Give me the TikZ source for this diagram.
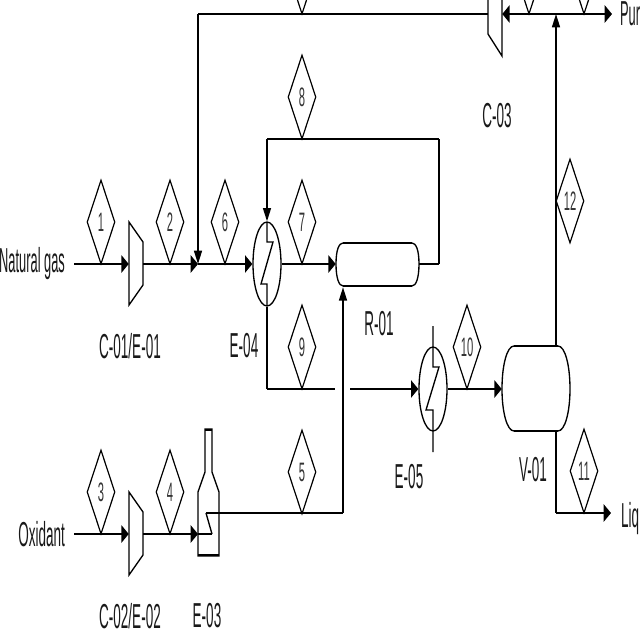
\documentclass[tikz,border=0pt]{standalone}
\usepackage{fontspec}
\setmainfont{Liberation Sans}
\usetikzlibrary{arrows.meta}
\usetikzlibrary{shapes.geometric}

\tikzset{
  pipe/.style={line width=2pt},
  riser/.style={line width=1.1pt},
  flow/.style={-{Triangle[length=5.5pt,width=13pt]}},
  rise/.style={-{Triangle[length=10pt,width=6pt]}},
  vessel/.style={line width=1pt},
  exchanger/.style={ellipse,draw=black,line width=1pt,inner sep=0pt,minimum width=21pt,minimum height=63pt},
  port/.style={inner sep=0pt,minimum size=0pt},
  tag/.style={diamond,draw=black,line width=0.9pt,aspect=0.33,inner sep=0pt,minimum width=21pt,minimum height=63pt,font=\fontsize{20}{20}\selectfont,text=black!80},
  tagtext/.style={font=\fontsize{26}{26}\selectfont,text=black!90,xscale=0.39,transform shape,inner sep=0pt},
}
\newcommand{\digit}[1]{\scalebox{0.42}[1]{#1}}

\begin{document}
\begin{tikzpicture}[x=0.75pt,y=-0.75pt]
  \useasboundingbox (0,0) rectangle (640,640);
  \clip (0,0) rectangle (640,640);
  % stream tags
  \node[tag] (t1) at (101,222) {\digit{1}};
  \node[tag] (t2) at (170,222) {\digit{2}};
  \node[tag] (t6) at (225,222) {\digit{6}};
  \node[tag] (t7) at (302,222) {\digit{7}};
  \node[tag] (t8) at (302,97) {\digit{8}};
  \node[tag] (t9) at (302,347) {\digit{9}};
  \node[tag] (t3) at (101,492) {\digit{3}};
  \node[tag] (t4) at (170,492) {\digit{4}};
  \node[tag] (t5) at (302,472) {\digit{5}};
  \node[tag] (t10) at (467,347) {\digit{10}};
  \node[tag] (t11) at (584,471) {\digit{11}};
  \node[tag] (t12) at (570,201) {\digit{12}};
  \node[tag] (t13) at (302,-28) {};
  \node[tag] (t14) at (529,-28) {};
  \node[tag] (t15) at (584,-28) {};
  % equipment
  \coordinate (in1) at (74,264);
  \coordinate (in2) at (74,534);
  \node[port] (c1in) at (129,264) {};
  \node[port] (c1out) at (143,264) {};
  \node[port] (c2in) at (129,534) {};
  \node[port] (c2out) at (143,534) {};
  \node[port] (c3in) at (488,14) {};
  \node[port] (c3out) at (502,14) {};
  \draw[vessel] (129,222) -- (143,242) -- (143,285) -- (129,305) -- cycle;
  \draw[vessel] (129,492) -- (143,512) -- (143,555) -- (129,575) -- cycle;
  \draw[vessel] (488,-10) -- (488,34) -- (502,56) -- (502,-10);
  \node[exchanger] (e4) at (267,264) {};
  \node[exchanger] (e5) at (433,389) {};
  \draw[vessel] (267,222) -- (267,242) -- (273,242) -- (261,284) -- (267,284) -- (267,306);
  \draw[vessel] (433,326) -- (433,367) -- (439,367) -- (426,410) -- (433,410) -- (433,452);
  \draw[vessel] (336,264) .. controls (336,250) and (339,243) .. (343,243) -- (412,243) .. controls (416,243) and (419,250) .. (419,264) .. controls (419,278) and (416,286) .. (412,286) -- (343,286) .. controls (339,286) and (336,278) .. (336,264) -- cycle;
  \draw[pipe] (343,243) -- (412,243);
  \draw[pipe] (343,286) -- (412,286);
  \node[port] (r1in) at (336,264) {};
  \node[port] (r1out) at (419,264) {};
  \node[port] (r1bot) at (343,287) {};
  \draw[vessel] (502,389) .. controls (502,365) and (507,346) .. (514,346) -- (558,346) .. controls (565,346) and (570,365) .. (570,389) .. controls (570,412) and (565,431) .. (558,431) -- (514,431) .. controls (507,431) and (502,412) .. (502,389) -- cycle;
  \draw[pipe] (514,346) -- (558,346);
  \draw[pipe] (514,431) -- (558,431);
  \node[port] (v1in) at (502,389) {};
  \node[port] (v1top) at (556,346) {};
  \node[port] (v1bot) at (556,431) {};
  \draw[vessel] (198,556) -- (198,492) -- (205,472) -- (205,429) -- (212,429) -- (212,472) -- (219,492) -- (219,556) -- cycle;
  \draw[pipe] (205,430) -- (212,430);
  \draw[pipe] (198,555) -- (219,555);
  % streams
  \coordinate (j1) at (198,264);
  \coordinate (j2) at (198,14);
  \coordinate (j3) at (267,139);
  \coordinate (j4) at (439,139);
  \coordinate (j5) at (439,264);
  \coordinate (j6) at (267,389);
  \coordinate (j7) at (335,389);
  \coordinate (j8) at (350,389);
  \coordinate (j9) at (343,513);
  \coordinate (j10) at (556,14);
  \coordinate (j11) at (556,513);
  \coordinate (j12) at (198,534);
  \coordinate (j13) at (212,534);
  \coordinate (j14) at (206,513);
  \coordinate (purge) at (612,14);
  \coordinate (liquid) at (611,513);
  \draw[pipe,flow] (in1) -- (c1in);
  \draw[pipe,flow] (c1out) -- (j1);
  \draw[pipe,flow] (j1) -- (e4.west);
  \draw[pipe,flow] (e4.east) -- (r1in);
  \draw[pipe] (r1out) -- (j5);
  \draw[riser] (j5) -- (j4);
  \draw[pipe] (j4) -- (j3);
  \draw[riser,rise] (j3) -- (e4.north);
  \draw[riser] (e4.south) -- (j6);
  \draw[pipe] (j6) -- (j7);
  \draw[pipe,flow] (j8) -- (e5.west);
  \draw[pipe,flow] (e5.east) -- (v1in);
  \draw[pipe] (j2) -- (c3in);
  \draw[riser,rise] (j2) -- (j1);
  \draw[pipe,flow] (j10) -- (c3out);
  \draw[pipe,flow] (j10) -- (purge);
  \draw[riser,rise] (v1top) -- (j10);
  \draw[riser] (v1bot) -- (j11);
  \draw[pipe,flow] (j11) -- (liquid);
  \draw[pipe,flow] (in2) -- (c2in);
  \draw[pipe,flow] (c2out) -- (j12);
  \draw[pipe] (j12) -- (j13);
  \draw[vessel] (j13) -- (j14);
  \draw[pipe] (j14) -- (j9);
  \draw[riser,rise] (j9) -- (r1bot);
  % labels
  \node[tagtext,anchor=east,xscale=0.95] (natgas) at (65,264) {Natural gas};
  \node[tagtext,anchor=east] (oxidant) at (65,534) {Oxidant};
  \node[tagtext,anchor=west,xscale=0.95] (purgetext) at (620,14) {Pur};
  \node[tagtext,anchor=west] (liquidtext) at (621,519) {Liq};
  \node[tagtext] (c1) at (130,346) {C-01/E-01};
  \node[tagtext] (e4l) at (244,346) {E-04};
  \node[tagtext] (c2) at (130,616) {C-02/E-02};
  \node[tagtext] (e3) at (207,616) {E-03};
  \node[tagtext] (r1) at (379,324) {R-01};
  \node[tagtext] (e5l) at (409,477) {E-05};
  \node[tagtext] (v1) at (533,470) {V-01};
  \node[tagtext] (c3) at (497,116) {C-03};
\end{tikzpicture}
\end{document}
